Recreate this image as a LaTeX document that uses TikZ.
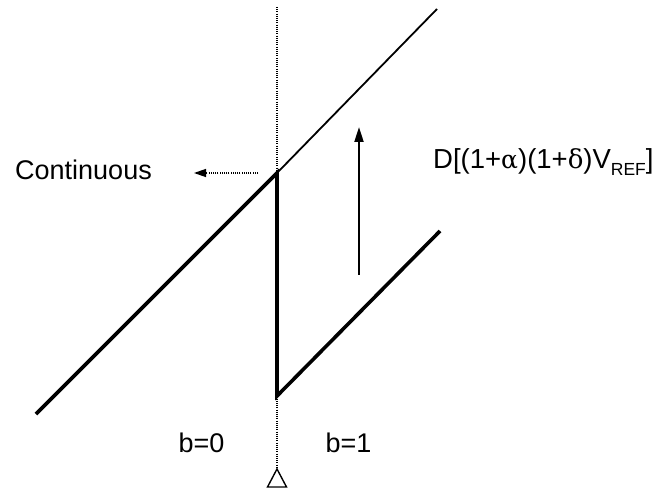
\documentclass[tikz,border=0pt]{standalone}
\usepackage{fontspec}
\setmainfont{Liberation Sans}
\newfontfamily\grk{DejaVu Serif}
\usetikzlibrary{arrows.meta}
\begin{document}
\begin{tikzpicture}[x=1pt,y=-1pt,
  thickline/.style={line width=3.6pt},
  thinline/.style={line width=1.8pt},
  dotline/.style={line width=1.3pt,dash pattern=on 1pt off 1.2pt},
  lbl/.style={font=\fontsize{27}{30}\selectfont, inner sep=0pt}]
\useasboundingbox (0,0) rectangle (657,492);
\coordinate (top) at (277,7);
\coordinate (jump) at (277,173);
\coordinate (low) at (277,396);
\coordinate (start) at (36,414);
\coordinate (thinend) at (437,9);
\coordinate (lowend) at (440,231);
\coordinate (dotbot) at (277,468);
\coordinate (arrbot) at (359,275);
\coordinate (arrtop) at (359,127);
\coordinate (dl1) at (258,173);
\coordinate (dl2) at (194,173);
\draw[dotline] (top) -- (dotbot);
\draw[thinline] (jump) -- (thinend);
\draw[thickline, line join=miter] (start) -- (jump) -- (low) -- (lowend);
\draw[line width=2pt, -{Triangle[length=15pt,width=9pt]}] (arrbot) -- (arrtop);
\draw[dotline, -{Triangle[length=12pt,width=8pt]}] (dl1) -- (dl2);
\draw[line width=1.4pt, fill=white, line join=miter] (277,469) coordinate (tri) -- (286.5,487) -- (267.5,487) -- cycle;
\node[lbl, anchor=base east] (cont) at (152,180) {Continuous};
\node[lbl, anchor=base west, font=\fontsize{27.5}{30}\selectfont] (dlab) at (433,169) {D[(1+{\grk\fontsize{25}{30}\selectfont α})(1+{\grk\fontsize{26}{30}\selectfont δ})V\raisebox{-6.5pt}{\fontsize{17.5}{17}\selectfont REF}]};
\node[lbl, anchor=base] (b0) at (201.5,452) {b=0};
\node[lbl, anchor=base] (b1) at (348.5,452) {b=1};
\end{tikzpicture}
\end{document}
